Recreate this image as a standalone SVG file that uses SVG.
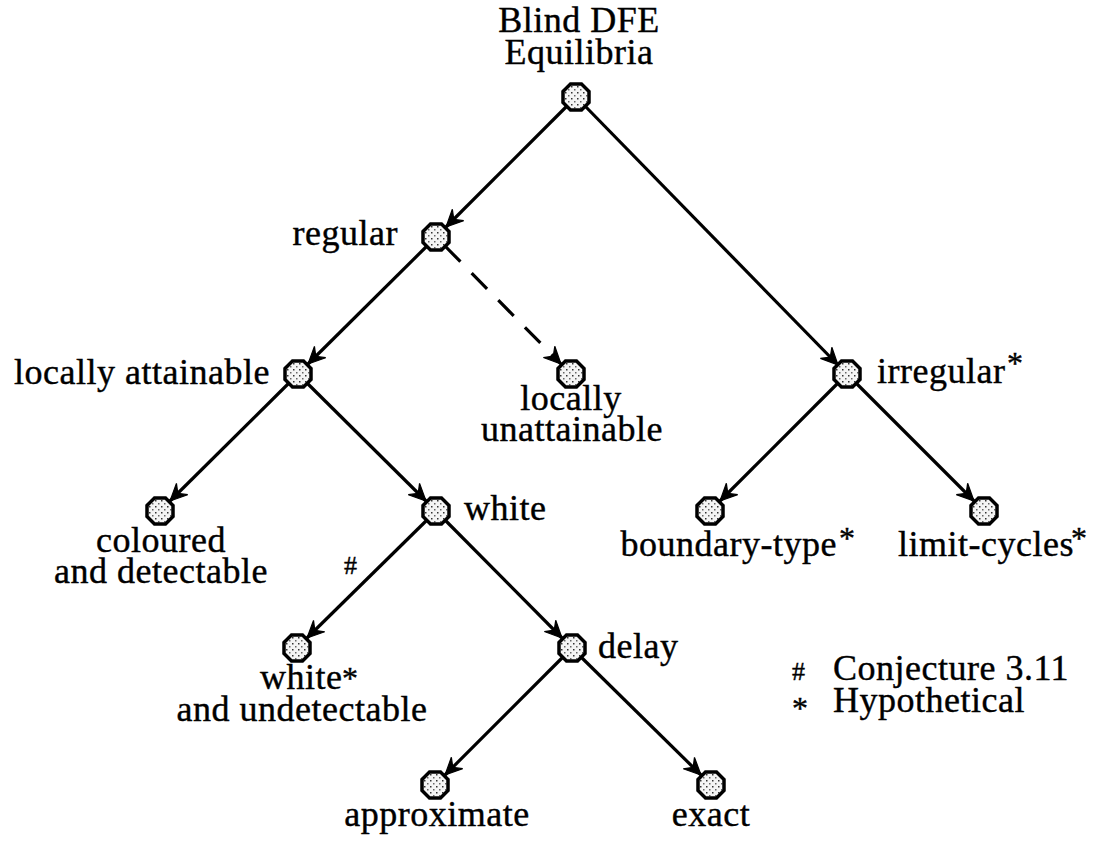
<svg xmlns="http://www.w3.org/2000/svg" width="1101" height="841" viewBox="0 0 1101 841">
  <defs>
    <pattern id="stipple" width="6" height="6" patternUnits="userSpaceOnUse">
      <rect width="6" height="6" fill="#f4f4f4"/>
      <rect x="1" y="1" width="1.5" height="1.5" fill="#333"/>
      <rect x="4" y="4" width="1.5" height="1.5" fill="#666"/>
    </pattern>
    <marker id="arrow" markerUnits="userSpaceOnUse" markerWidth="26" markerHeight="22" refX="0" refY="0" viewBox="-22 -11 26 22" orient="auto">
      <path d="M0,0 L-17,-8 L-11,0 L-17,8 Z" fill="#000" stroke="#000" stroke-width="1.2" stroke-linejoin="miter"/>
    </marker>
    <polygon id="oct" points="-5.5,-13 5.5,-13 13,-5.5 13,5.5 5.5,13 -5.5,13 -13,5.5 -13,-5.5"/>
  </defs>
  <style>
    .node use { fill: url(#stipple); stroke: #000; stroke-width: 3.5; }
    .edge { stroke: #000; stroke-width: 3.2; fill: none; marker-end: url(#arrow); }
    .dash { stroke-dasharray: 22 16; }
    text { font-family: "Liberation Serif", "Times New Roman", serif; font-size: 36px; letter-spacing: 0.5px; fill: #000; stroke: #000; stroke-width: 0.4; }
    .mid { text-anchor: middle; }
    .end { text-anchor: end; }
    .sup { font-size: 32px; }
    .hash { font-size: 26px; }
  </style>

  <rect width="1101" height="841" fill="#fff"/>

  <g id="connectors">
    <line class="edge" x1="567" y1="106" x2="446" y2="227"/>
    <line class="edge" x1="585" y1="106" x2="838" y2="365"/>
    <line class="edge" x1="427" y1="246" x2="308" y2="364"/>
    <line class="edge dash" x1="445" y1="246" x2="561" y2="364"/>
    <line class="edge" x1="289" y1="383" x2="170" y2="501"/>
    <line class="edge" x1="307" y1="383" x2="426" y2="501"/>
    <line class="edge" x1="838" y1="383" x2="720" y2="501"/>
    <line class="edge" x1="856" y1="383" x2="974" y2="501"/>
    <line class="edge" x1="427" y1="520" x2="307" y2="638"/>
    <line class="edge" x1="445" y1="520" x2="562" y2="638"/>
    <line class="edge" x1="563" y1="657" x2="445" y2="775"/>
    <line class="edge" x1="581" y1="657" x2="701" y2="775"/>
  </g>

  <g id="root" class="node">
    <use href="#oct" x="576" y="97"/>
    <text class="mid" x="579" y="32">Blind DFE</text>
    <text class="mid" x="579" y="64">Equilibria</text>
  </g>
  <g id="regular" class="node">
    <use href="#oct" x="436" y="237"/>
    <text class="end" x="398" y="245">regular</text>
  </g>
  <g id="locally-attainable" class="node">
    <use href="#oct" x="298" y="374"/>
    <text class="end" x="270" y="384">locally attainable</text>
  </g>
  <g id="locally-unattainable" class="node">
    <use href="#oct" x="571" y="374"/>
    <text class="mid" x="571" y="410">locally</text>
    <text class="mid" x="572" y="441">unattainable</text>
  </g>
  <g id="irregular" class="node">
    <use href="#oct" x="847" y="374"/>
    <text x="877" y="383">irregular</text>
    <text class="sup" x="1007" y="374">*</text>
  </g>
  <g id="coloured" class="node">
    <use href="#oct" x="160" y="511"/>
    <text class="mid" x="161" y="552">coloured</text>
    <text class="mid" x="161" y="583">and detectable</text>
  </g>
  <g id="white" class="node">
    <use href="#oct" x="436" y="511"/>
    <text x="464" y="520">white</text>
    <text class="hash" x="344" y="574">#</text>
  </g>
  <g id="boundary-type" class="node">
    <use href="#oct" x="710" y="511"/>
    <text class="end" x="837" y="556">boundary-type</text>
    <text class="sup" x="839" y="549">*</text>
  </g>
  <g id="limit-cycles" class="node">
    <use href="#oct" x="984" y="511"/>
    <text x="898" y="556">limit-cycles</text>
    <text class="sup" x="1071" y="549">*</text>
  </g>
  <g id="white-undetectable" class="node">
    <use href="#oct" x="297" y="648"/>
    <text x="260" y="689">white</text>
    <text class="sup" x="342" y="689">*</text>
    <text class="mid" x="302" y="721">and undetectable</text>
  </g>
  <g id="delay" class="node">
    <use href="#oct" x="572" y="648"/>
    <text x="598" y="658">delay</text>
  </g>
  <g id="approximate" class="node">
    <use href="#oct" x="435" y="785"/>
    <text class="mid" x="437" y="826">approximate</text>
  </g>
  <g id="exact" class="node">
    <use href="#oct" x="711" y="785"/>
    <text class="mid" x="711" y="826">exact</text>
  </g>

  <g id="legend">
    <text class="hash" x="792" y="680">#</text>
    <text x="833" y="680">Conjecture 3.11</text>
    <text class="sup" x="792" y="719">*</text>
    <text x="833" y="712">Hypothetical</text>
  </g>
</svg>
